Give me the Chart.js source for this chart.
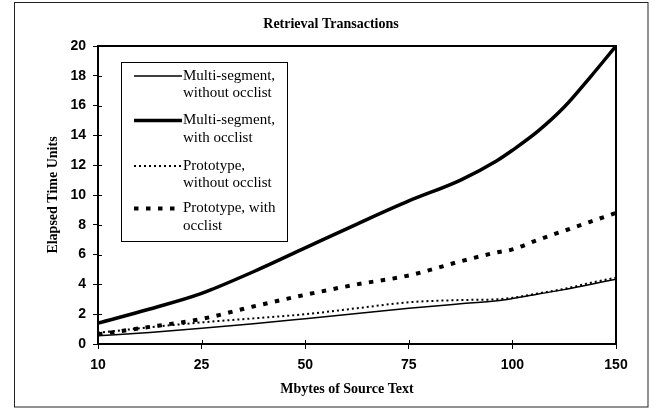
<!DOCTYPE html>
<html><head><meta charset="utf-8">
<script src="https://cdn.jsdelivr.net/npm/chart.js@4/dist/chart.umd.min.js"></script>
<style>html,body{margin:0;padding:0;background:#fff;}canvas{display:block;}</style>
</head><body>
<canvas id="c" width="656" height="408"></canvas>
<script>
const chartTitle = 'Retrieval Transactions';
const xAxisTitle = 'Mbytes of Source Text';
const yAxisTitle = 'Elapsed Time Units';
const xTickLabels = ['10', '25', '50', '75', '100', '150'];
// positions along the (evenly spaced) category axis where values were read
const samplePositions = [0, 0.5, 1, 1.5, 2, 2.5, 3, 3.5, 3.85, 4, 4.25, 4.5, 4.75, 5];
const multiSegWithout = [0.55, 0.78, 1.05, 1.36, 1.7, 2.05, 2.4, 2.7, 2.9, 3.05, 3.35, 3.65, 4.0, 4.35];
const multiSegWith    = [1.4, 2.35, 3.4, 4.85, 6.45, 8.05, 9.6, 11.0, 12.3, 13.0, 14.3, 15.9, 17.9, 20];
const protoWithout    = [0.75, 1.12, 1.45, 1.72, 2.0, 2.4, 2.8, 2.95, 3.0, 3.1, 3.4, 3.7, 4.1, 4.45];
const protoWith       = [0.65, 1.15, 1.68, 2.52, 3.3, 4.0, 4.6, 5.55, 6.15, 6.35, 7.0, 7.6, 8.2, 8.8];
const legendLabels = [
  ['Multi-segment,', 'without occlist'],
  ['Multi-segment,', 'with occlist'],
  ['Prototype,', 'without occlist'],
  ['Prototype, with', 'occlist']
];

const pts = arr => samplePositions.map((x, i) => ({x: x, y: arr[i]}));

const serif = '"Liberation Serif", "Times New Roman", serif';
const sans = '"Liberation Sans", Arial, sans-serif';

const decorPlugin = {
  id: 'decor',
  afterDraw(chart) {
    const ctx = chart.ctx;
    const a = chart.chartArea;
    const xs = chart.scales.x, ys = chart.scales.y;
    ctx.save();
    // outer frame
    ctx.strokeStyle = '#222';
    ctx.lineWidth = 1;
    ctx.strokeRect(14.5, 2.5, 633.5, 404.5);
    // plot frame
    ctx.strokeStyle = '#000';
    ctx.lineWidth = 2;
    ctx.strokeRect(a.left, a.top, a.right - a.left, a.bottom - a.top);
    // inner halves of tick marks
    ctx.lineWidth = 1;
    ys.ticks.forEach(t => {
      const y = Math.round(ys.getPixelForValue(t.value)) + 0.5;
      ctx.beginPath(); ctx.moveTo(a.left, y); ctx.lineTo(a.left + 4, y); ctx.stroke();
    });
    xs.ticks.forEach(t => {
      const x = Math.round(xs.getPixelForValue(t.value)) + 0.5;
      ctx.beginPath(); ctx.moveTo(x, a.bottom); ctx.lineTo(x, a.bottom - 4); ctx.stroke();
    });
    // titles
    ctx.fillStyle = '#000';
    ctx.textBaseline = 'middle';
    ctx.textAlign = 'center';
    ctx.font = 'bold 14px ' + serif;
    ctx.fillText(chartTitle, 331, 24);
    ctx.fillText(xAxisTitle, 347, 389);
    ctx.save();
    ctx.translate(53, (a.top + a.bottom) / 2);
    ctx.rotate(-Math.PI / 2);
    ctx.fillText(yAxisTitle, 0, 0);
    ctx.restore();
    // legend
    const bx = 121.5, by = 62.5, bw = 166, bh = 179;
    ctx.fillStyle = '#fff';
    ctx.fillRect(bx, by, bw, bh);
    ctx.strokeStyle = '#000';
    ctx.lineWidth = 1;
    ctx.strokeRect(bx, by, bw, bh);
    const rowY = [76, 120.5, 166, 208.5];
    ctx.font = '15px ' + serif;
    ctx.textAlign = 'left';
    chart.data.datasets.forEach((ds, i) => {
      const y = rowY[i];
      ctx.save();
      ctx.strokeStyle = ds.borderColor;
      ctx.lineWidth = ds.borderWidth;
      ctx.setLineDash(ds.borderDash || []);
      ctx.lineCap = 'butt';
      ctx.beginPath(); ctx.moveTo(134, y); ctx.lineTo(182, y); ctx.stroke();
      ctx.restore();
      ctx.fillStyle = '#000';
      ctx.fillText(legendLabels[i][0], 183, y);
      ctx.fillText(legendLabels[i][1], 183, y + 17.5);
    });
    ctx.restore();
  }
};

new Chart(document.getElementById('c'), {
  type: 'line',
  data: {
    datasets: [
      {label: legendLabels[0].join(' '), data: pts(multiSegWithout), borderColor: '#000', borderWidth: 1.5},
      {label: legendLabels[1].join(' '), data: pts(multiSegWith), borderColor: '#000', borderWidth: 3.5},
      {label: legendLabels[2].join(' '), data: pts(protoWithout), borderColor: '#000', borderWidth: 2, borderDash: [2, 3]},
      {label: legendLabels[3].join(' '), data: pts(protoWith), borderColor: '#000', borderWidth: 4, borderDash: [4.5, 7.5]}
    ]
  },
  options: {
    responsive: false,
    animation: false,
    events: [],
    layout: {padding: {left: 14, right: 40, top: 46, bottom: 0}},
    elements: {
      point: {radius: 0},
      line: {cubicInterpolationMode: 'monotone', borderCapStyle: 'butt', fill: false}
    },
    plugins: {legend: {display: false}, tooltip: {enabled: false}, title: {display: false}},
    scales: {
      x: {
        type: 'linear', min: 0, max: 5,
        afterFit: s => { s.height = 64; },
        grid: {display: true, drawOnChartArea: false, drawTicks: true, tickLength: 5, color: '#000'},
        border: {display: true, color: '#000', width: 2},
        ticks: {
          stepSize: 1, autoSkip: false, maxRotation: 0, padding: 8, color: '#000',
          font: {family: sans, size: 14, weight: 'bold'},
          callback: v => xTickLabels[v] !== undefined ? xTickLabels[v] : ''
        }
      },
      y: {
        min: 0, max: 20,
        afterFit: s => { s.width = 84; },
        grid: {display: true, drawOnChartArea: false, drawTicks: true, tickLength: 5, color: '#000'},
        border: {display: true, color: '#000', width: 2},
        ticks: {stepSize: 2, padding: 7, color: '#000', font: {family: sans, size: 14, weight: 'bold'}}
      }
    }
  },
  plugins: [decorPlugin]
});
</script>
</body></html>
